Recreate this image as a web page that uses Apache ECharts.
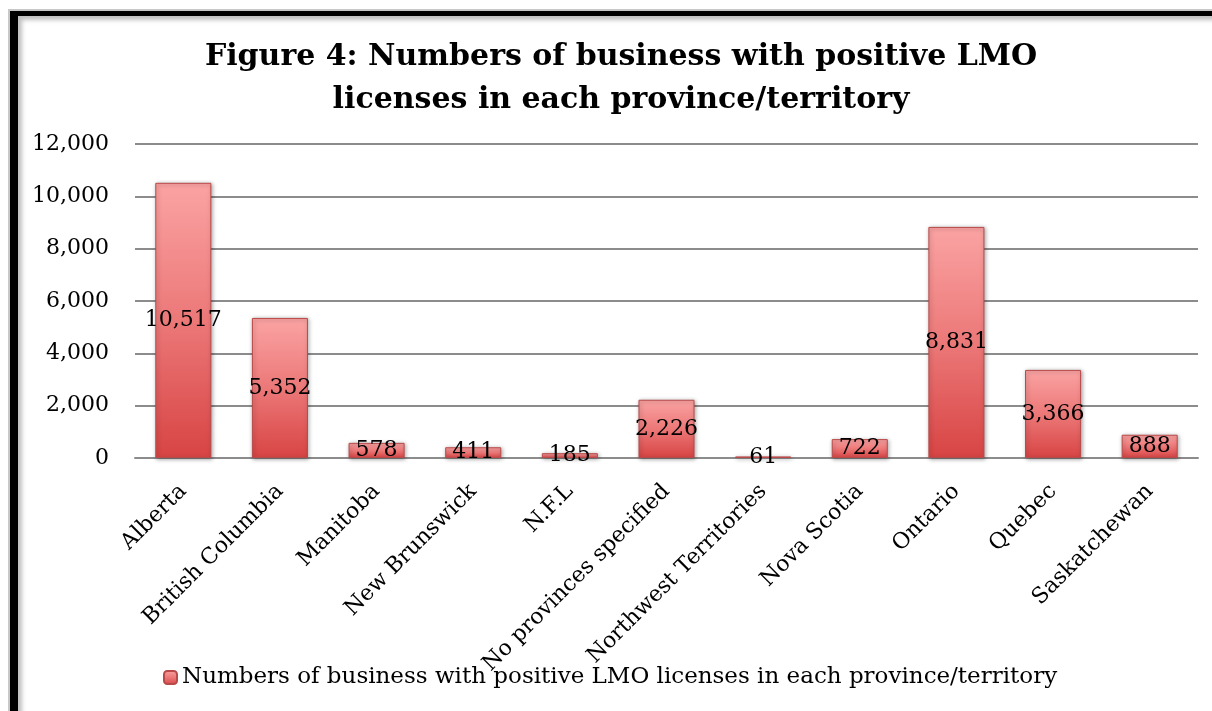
<!DOCTYPE html>
<html>
<head>
<meta charset="utf-8">
<script src="https://cdn.jsdelivr.net/npm/echarts@6/dist/echarts.min.js"></script>
<style>
html,body{margin:0;padding:0;background:#fff;}
#wrap{position:relative;width:1212px;height:711px;overflow:hidden;background:#fff;}
#chart{position:absolute;left:0;top:0;width:1212px;height:711px;}
#frame{position:absolute;left:10px;top:11px;width:1300px;height:800px;border-left:8px solid #000;border-top:5px solid #000;box-shadow:inset 4px 4px 4px rgba(0,0,0,0.25), -2px -2px 0 #c8c8c8;pointer-events:none;}
</style>
</head>
<body>
<div id="wrap"><div id="chart"></div><div id="frame"></div></div>
<script>
var categories = ["Alberta","British Columbia","Manitoba","New Brunswick","N.F.L","No provinces specified","Northwest Territories","Nova Scotia","Ontario","Quebec","Saskatchewan"];
var values = [10517,5352,578,411,185,2226,61,722,8831,3366,888];
var seriesName = "Numbers of business with positive LMO licenses in each province/territory";
var titleText = "Figure 4: Numbers of business with positive LMO\nlicenses in each province/territory";
var yTicks = {min:0,max:12000,interval:2000};

var font = "'DejaVu Serif', 'Liberation Serif', serif";
var chart = echarts.init(document.getElementById('chart'), null, {renderer:'canvas'});
var barColor = new echarts.graphic.LinearGradient(0,0,0,1,[
  {offset:0,color:'#fba3a3'},
  {offset:0.5,color:'#ec7878'},
  {offset:1,color:'#d84444'}
]);
chart.setOption({
  backgroundColor:'#fff',
  animation:false,
  title:{
    text:titleText,
    left:616,
    top:31,
    textAlign:'center',
    textStyle:{fontFamily:font,fontWeight:'bold',fontSize:30,lineHeight:43,color:'#000'}
  },
  legend:{
    data:[seriesName],
    bottom:17,
    left:158,
    itemWidth:13,
    itemHeight:13,
    itemGap:6,
    textStyle:{fontFamily:font,fontSize:23,color:'#000'}
  },
  grid:{left:135,right:14,top:144,bottom:253,containLabel:false},
  xAxis:{
    type:'category',
    data:categories,
    axisLine:{show:true,lineStyle:{color:'#8c8c8c',width:2}},
    axisTick:{show:false},
    axisLabel:{rotate:45,interval:0,margin:30,fontFamily:font,fontSize:22,color:'#000'}
  },
  yAxis:{
    type:'value',
    min:yTicks.min,max:yTicks.max,interval:yTicks.interval,
    axisLine:{show:false},
    axisTick:{show:false},
    splitLine:{lineStyle:{color:'#8c8c8c',width:2}},
    axisLabel:{margin:26,fontFamily:font,fontSize:22,color:'#000',
      formatter:function(v){return v.toLocaleString('en-US');}}
  },
  series:[{
    name:seriesName,
    type:'bar',
    data:values,
    barWidth:'58%',
    itemStyle:{color:barColor,borderColor:'#b94a4a',borderWidth:1,shadowColor:'rgba(0,0,0,0.35)',shadowBlur:4,shadowOffsetX:1,shadowOffsetY:1},
    label:{show:true,position:'inside',fontFamily:font,fontSize:22,color:'#000',
      formatter:function(p){return p.value.toLocaleString('en-US');}}
  }]
});
</script>
</body>
</html>
